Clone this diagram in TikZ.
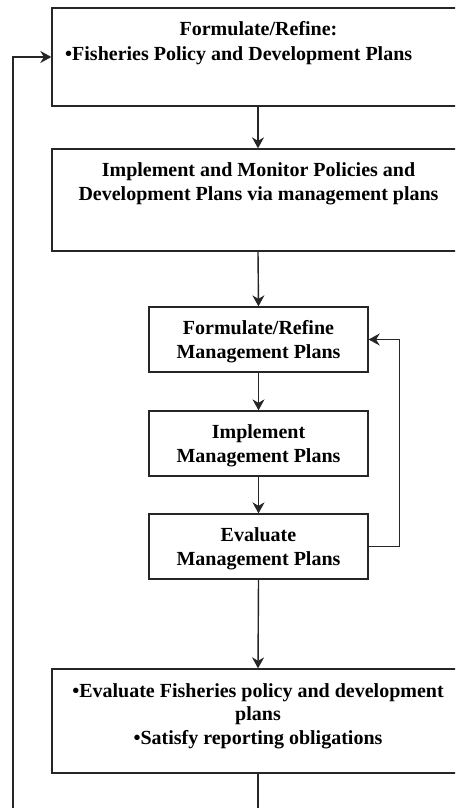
\documentclass[tikz,border=0pt]{standalone}
\usepackage{fontspec}
\setmainfont{Liberation Serif}
\usetikzlibrary{arrows.meta}
\begin{document}
\begin{tikzpicture}[x=1pt,y=-1pt,
  box/.style={draw=black!85,line width=1.3pt,inner sep=0pt,fill=white},
  wide/.style={box,minimum width=412pt},
  small/.style={box,minimum width=219pt,minimum height=65pt},
  txt/.style={inner sep=0pt,font=\fontsize{20}{24}\selectfont\bfseries},
  conn/.style={line width=1.4pt,black!85,-{Stealth[length=11pt,width=12pt,inset=3.5pt]}},
  plain/.style={line width=1.4pt,black!85}]
\useasboundingbox (0,0) rectangle (455,808);
\clip (0,0) rectangle (455,808);
\node[wide,minimum height=98pt] (b1) at (258,57) {};
\node[wide,minimum height=102pt] (b2) at (258,200) {};
\node[small] (b3) at (258.5,339.5) {};
\node[small] (b4) at (258.5,443.5) {};
\node[small] (b5) at (258.5,546.5) {};
\node[wide,minimum height=104pt] (b6) at (258,721) {};
\coordinate (L) at (13,808);
\coordinate (B) at (258,808);
% texts
\node[txt,anchor=base] (t1a) at (258.5,36) {Formulate/Refine:};
\node[txt,anchor=base west] (t1b) at (65,60) {•Fisheries Policy and Development Plans};
\node[txt,anchor=base] (t2a) at (258.5,176) {Implement and Monitor Policies and};
\node[txt,anchor=base] (t2b) at (258.5,200) {Development Plans via management plans};
\node[txt,anchor=base] (t3a) at (258.5,334) {Formulate/Refine};
\node[txt,anchor=base] (t3b) at (258.5,358) {Management Plans};
\node[txt,anchor=base] (t4a) at (258.5,438) {Implement};
\node[txt,anchor=base] (t4b) at (258.5,462) {Management Plans};
\node[txt,anchor=base] (t5a) at (258.5,541) {Evaluate};
\node[txt,anchor=base] (t5b) at (258.5,565) {Management Plans};
\node[txt,anchor=base] (t6a) at (258,697) {•Evaluate Fisheries policy and development};
\node[txt,anchor=base] (t6b) at (258,720) {plans};
\node[txt,anchor=base] (t6c) at (258,744) {•Satisfy reporting obligations};
% connectors
\draw[conn] (b1.south) -- (b2.north);
\draw[conn] (b2.south) -- (b3.north);
\draw[conn] (b3.south) -- (b4.north);
\draw[conn] (b4.south) -- (b5.north);
\draw[conn] (b5.south) -- (b6.north);
\draw[conn] (b5.east) -- ++(31,0) |- (b3.east);
\draw[conn] (L) |- (b1.west);
\draw[plain] (b6.south) -- (B);
\end{tikzpicture}
\end{document}
